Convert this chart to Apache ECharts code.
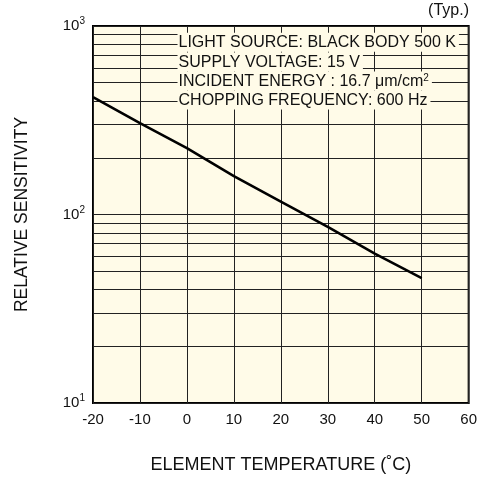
<!DOCTYPE html>
<html><head><meta charset="utf-8">
<script src="https://cdn.jsdelivr.net/npm/echarts@6/dist/echarts.min.js"></script>
<style>html,body{margin:0;padding:0;background:#fff}#c{width:480px;height:480px}</style>
</head><body><div id="c"></div>
<script>
const temps = [-20, -10, 0, 10, 20, 30, 40, 50];
const sensitivity = [420, 305, 225, 160, 117, 86, 62, 46];
const minorGridValues = [20,30,40,50,60,70,80,90,200,300,400,500,600,700,800,900];
const conditions = ['LIGHT SOURCE: BLACK BODY 500 K','SUPPLY VOLTAGE: 15 V','INCIDENT ENERGY : 16.7 μm/cm{s|2}','CHOPPING FREQUENCY: 600 Hz'];
const conditionAnchorY = [820, 644, 510, 405];
const conditionAnchorX = -2;

const FONT = 'Liberation Sans, Arial, Helvetica, sans-serif';
const BG = '#fffbe8';
const INK = '#111';
const chart = echarts.init(document.getElementById('c'));
const supMap = {10:'10{s|1}',100:'10{s|2}',1000:'10{s|3}'};
chart.setOption({
  animation: false,
  textStyle: {fontFamily: FONT},
  grid: {left: 93, right: 8, top: 26, bottom: 77, show: true, backgroundColor: BG, borderColor: '#000', borderWidth: 2},
  xAxis: {
    type: 'value', min: -20, max: 60, interval: 10,
    name: 'ELEMENT TEMPERATURE (˚C)', nameLocation: 'middle', nameGap: 53,
    nameTextStyle: {fontSize: 18, color: INK, fontFamily: FONT},
    axisLine: {show: false}, axisTick: {show: false},
    axisLabel: {fontSize: 15, color: INK, margin: 9, fontFamily: FONT},
    splitLine: {show: true, lineStyle: {color: '#222', width: 1}}
  },
  yAxis: {
    type: 'log', logBase: 10, min: 10, max: 1000,
    name: 'RELATIVE SENSITIVITY', nameLocation: 'middle', nameGap: 62,
    nameTextStyle: {fontSize: 17.5, color: INK, fontFamily: FONT},
    axisLine: {show: false}, axisTick: {show: false},
    axisLabel: {fontSize: 15, color: INK, margin: 8, fontFamily: FONT,
      formatter: v => supMap[Math.round(v)] || '',
      rich: {s: {fontSize: 10, verticalAlign: 'top', padding: [0,0,9,0], fontFamily: FONT, color: INK}}},
    splitLine: {show: true, lineStyle: {color: '#222', width: 1}}
  },
  series: [
    {
      type: 'line', data: [], silent: true, z: 1,
      markLine: {
        silent: true, symbol: 'none', animation: false,
        lineStyle: {color: '#222', width: 1, type: 'solid'},
        label: {show: false},
        data: minorGridValues.map(v => ({yAxis: v}))
      }
    },
    {
      type: 'line', data: temps.map((t, i) => [t, sensitivity[i]]),
      showSymbol: false, symbol: 'none', z: 5,
      lineStyle: {color: '#000', width: 2.6}
    }
  ]
});

const ax = chart.convertToPixel({xAxisIndex: 0}, conditionAnchorX);
const graphics = [
  {type: 'text', right: 11, top: 3, z: 100, style: {text: '(Typ.)', font: '16px ' + FONT, fill: INK}}
];
conditions.forEach((t, i) => {
  const y = chart.convertToPixel({yAxisIndex: 0}, conditionAnchorY[i]);
  graphics.push({
    type: 'text', x: ax, y: y, z: 100, zlevel: 0,
    style: {
      text: t, font: '16px ' + FONT, fill: INK,
      verticalAlign: 'middle', align: 'left',
      backgroundColor: BG, padding: [2, 3, 1, 1], lineHeight: 16,
      rich: {s: {font: '10px ' + FONT, fill: INK, verticalAlign: 'top', padding: [0,0,8,0]}}
    }
  });
});
chart.setOption({graphic: graphics});
</script></body></html>
